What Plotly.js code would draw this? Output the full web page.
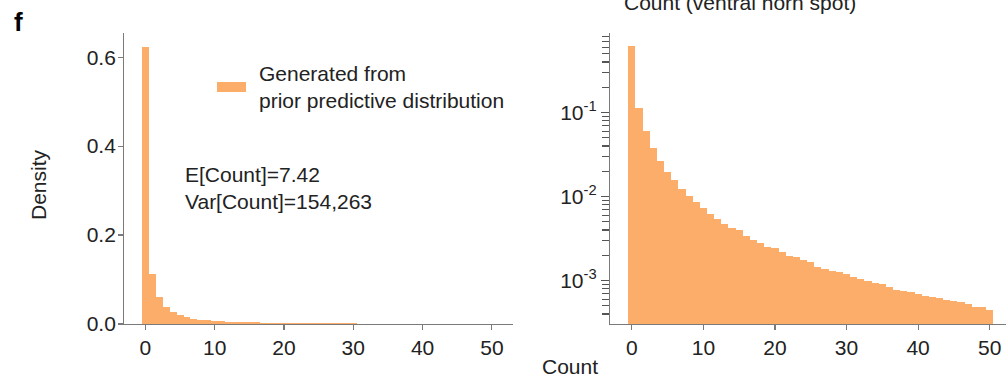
<!DOCTYPE html>
<html>
<head>
<meta charset="utf-8">
<script src="https://cdn.plot.ly/plotly-3.0.1.min.js"></script>
<style>
  html, body { margin: 0; padding: 0; overflow: hidden; background: #ffffff; }
  #chart { width: 1006px; height: 378px; }
</style>
</head>
<body>
<div id="chart"></div>
<script>
// Histogram of counts drawn from the prior predictive distribution (density per unit bin)
const counts = [0, 1, 2, 3, 4, 5, 6, 7, 8, 9,
                10, 11, 12, 13, 14, 15, 16, 17, 18, 19,
                20, 21, 22, 23, 24, 25, 26, 27, 28, 29,
                30, 31, 32, 33, 34, 35, 36, 37, 38, 39,
                40, 41, 42, 43, 44, 45, 46, 47, 48, 49, 50];
const density = [0.623, 0.112, 0.0598, 0.0374, 0.0267, 0.0198, 0.0156, 0.0123, 0.0100, 0.00870,
                 0.00724, 0.00626, 0.00541, 0.00476, 0.00418, 0.00396, 0.00337, 0.00307, 0.00279, 0.00251,
                 0.00242, 0.00221, 0.00198, 0.00188, 0.00174, 0.00165, 0.00145, 0.00138, 0.00130, 0.00127,
                 0.00118, 0.00111, 0.00103, 0.000986, 0.000946, 0.000909, 0.000830, 0.000779, 0.000754, 0.000738,
                 0.000699, 0.000661, 0.000631, 0.000622, 0.000581, 0.000570, 0.000561, 0.000527, 0.000483, 0.000479,
                 0.000442];

const countTicks = [0, 10, 20, 30, 40, 50];
const densityTicks = [0.0, 0.2, 0.4, 0.6];
const logMajorTicks = [0.001, 0.01, 0.1];
const logMajorLabels = ['10<sup>-3</sup>', '10<sup>-2</sup>', '10<sup>-1</sup>'];

const seriesName = 'Generated from<br>prior predictive distribution';
const statsText = 'E[Count]=7.42<br>Var[Count]=154,263';
const panelLabel = 'f';
const rightTitle = 'Count (ventral horn spot)';
const xLabel = 'Count';
const yLabel = 'Density';

// Unlabeled minor marks at digits 2..9 of each decade inside the log range
const logMinorTicks = [];
[0.0001, 0.001, 0.01, 0.1].forEach(function (decade) {
  for (let d = 2; d <= 9; d++) {
    const v = decade * d;
    if (v >= 0.00031 && v <= 0.95) logMinorTicks.push(v);
  }
});

const W = 1006, H = 378;
const px = function (x) { return x / W; };
const py = function (y) { return 1 - y / H; };

const barColor = '#FDAD6A';
const axisColor = '#7a7a7a';
const textColor = '#222222';
const fontFamily = '"Liberation Sans", Arial, Helvetica, sans-serif';

const barStyle = { color: barColor, line: { width: 0 } };

const traces = [
  { type: 'bar', x: counts, y: density, width: 1, marker: barStyle,
    name: seriesName, showlegend: false, xaxis: 'x', yaxis: 'y', hoverinfo: 'x+y' },
  { type: 'bar', x: counts, y: density, width: 1, marker: barStyle,
    name: seriesName, showlegend: false, xaxis: 'x2', yaxis: 'y2', hoverinfo: 'x+y' }
];

const baseAxis = {
  showline: true, linecolor: axisColor, linewidth: 1.2,
  showgrid: false, zeroline: false,
  ticks: 'outside', tickcolor: axisColor, tickwidth: 1.2, ticklen: 5,
  tickfont: { size: 21, color: textColor, family: fontFamily }
};

const yDomain = [py(324), py(32.7)];

const layout = {
  width: W, height: H,
  margin: { l: 0, r: 0, t: 0, b: 0, pad: 0 },
  paper_bgcolor: '#ffffff', plot_bgcolor: '#ffffff',
  font: { family: fontFamily, size: 21, color: textColor },
  bargap: 0,
  showlegend: false,
  xaxis: Object.assign({}, baseAxis, {
    domain: [px(124.3), px(513)], range: [-3.05, 53.05], anchor: 'y',
    tickmode: 'array', tickvals: countTicks
  }),
  yaxis: Object.assign({}, baseAxis, {
    domain: yDomain, range: [0, 0.655], anchor: 'x',
    tickmode: 'array', tickvals: densityTicks, tickformat: '.1f',
    ticklabelstandoff: -2
  }),
  xaxis2: Object.assign({}, baseAxis, {
    domain: [px(610), 1], range: [-3.05, 52.28], anchor: 'y2',
    tickmode: 'array', tickvals: countTicks
  }),
  yaxis2: Object.assign({}, baseAxis, {
    type: 'log', domain: yDomain, range: [-3.518, -0.05], anchor: 'x2',
    tickmode: 'array', tickvals: logMajorTicks, ticktext: logMajorLabels,
    ticklen: 8, tickcolor: '#555555',
    minor: { tickmode: 'array', tickvals: logMinorTicks, ticks: 'outside',
             ticklen: 7, tickwidth: 1.2, tickcolor: '#555555', showgrid: false }
  }),
  shapes: [
    { type: 'rect', xref: 'paper', yref: 'paper',
      x0: px(217), x1: px(246), y0: py(92), y1: py(82),
      fillcolor: barColor, line: { width: 0 } }
  ],
  annotations: [
    { text: panelLabel, xref: 'paper', yref: 'paper', x: px(18), y: py(22),
      xanchor: 'center', yanchor: 'middle', showarrow: false,
      font: { size: 26, color: '#000000', family: fontFamily, weight: 'bold' } },
    { text: yLabel, xref: 'paper', yref: 'paper', x: px(38), y: py(185),
      xanchor: 'center', yanchor: 'middle', textangle: -90, showarrow: false,
      font: { size: 21, color: textColor, family: fontFamily } },
    { text: xLabel, xref: 'paper', yref: 'paper', x: px(570), y: py(366),
      xanchor: 'center', yanchor: 'middle', showarrow: false,
      font: { size: 21, color: textColor, family: fontFamily } },
    { text: rightTitle, xref: 'paper', yref: 'paper', x: px(740), y: py(2),
      xanchor: 'center', yanchor: 'middle', showarrow: false,
      font: { size: 21, color: textColor, family: fontFamily } },
    { text: statsText, xref: 'paper', yref: 'paper', x: px(183), y: py(188.5),
      xanchor: 'left', yanchor: 'middle', align: 'left', showarrow: false,
      font: { size: 21, color: textColor, family: fontFamily } },
    { text: seriesName, xref: 'paper', yref: 'paper', x: px(257), y: py(86.5),
      xanchor: 'left', yanchor: 'middle', align: 'left', showarrow: false,
      font: { size: 21, color: textColor, family: fontFamily } }
  ]
};

Plotly.newPlot('chart', traces, layout, { displayModeBar: false, staticPlot: true });
</script>
</body>
</html>
